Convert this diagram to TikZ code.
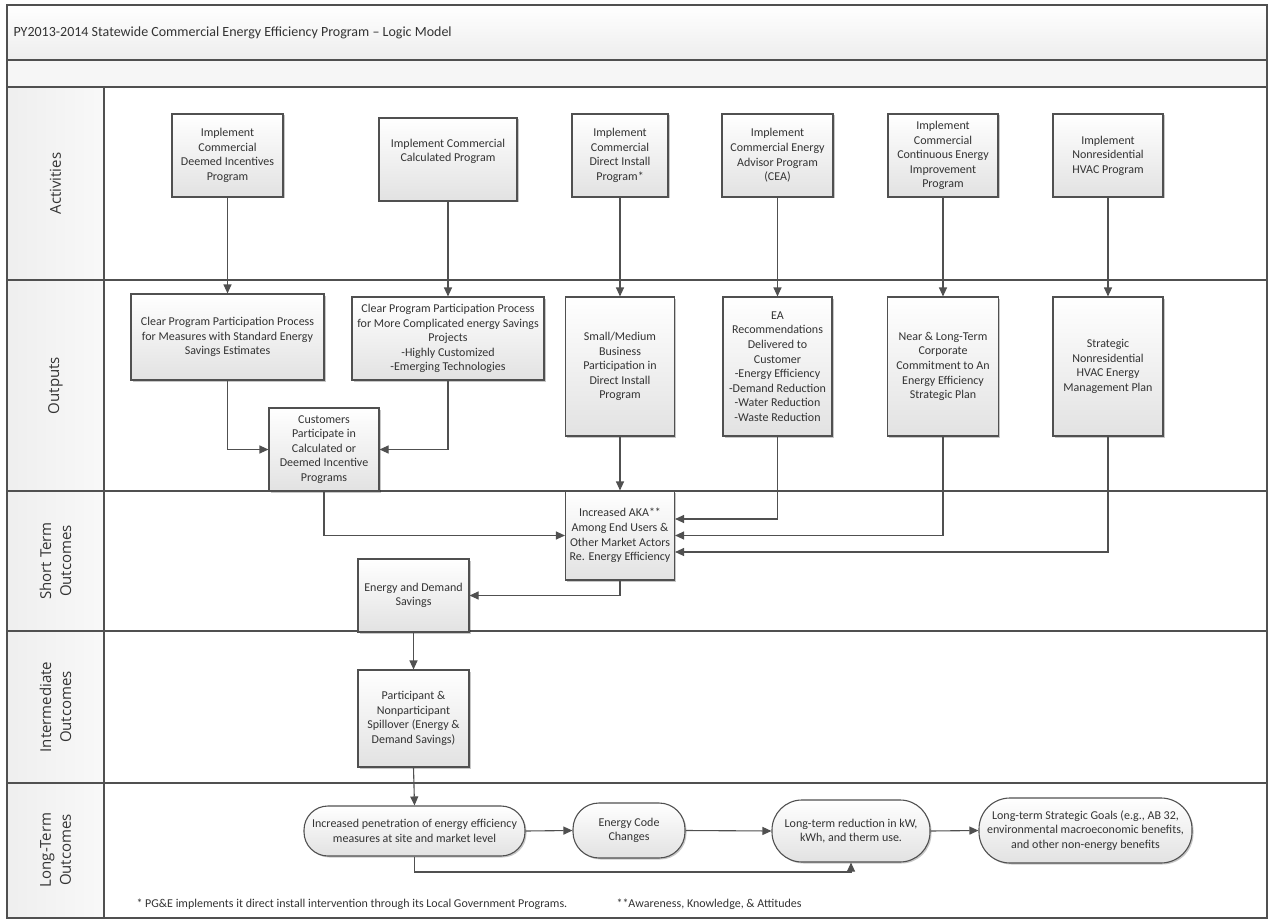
\documentclass[tikz,border=0pt]{standalone}
\usepackage{fontspec}
\setmainfont{Carlito}
\newfontfamily\lanefont{Open Sans}
\usetikzlibrary{arrows.meta,shadows,calc}

\definecolor{linec}{HTML}{505050}
\definecolor{txt}{HTML}{333333}
\definecolor{boxbot}{HTML}{E2E2E2}
\newcommand\bxfont{\fontsize{12}{14.6}\selectfont}

\begin{document}
\begin{tikzpicture}[x=1pt,y=-1pt,
  frame/.style={draw=linec,line width=1.3pt},
  box/.style={draw=linec,line width=1.1pt,top color=white,bottom color=boxbot,
    drop shadow={shadow xshift=1.5pt,shadow yshift=-1.5pt,fill=black,opacity=0.22},
    align=center,font=\bxfont,text=txt,inner sep=0pt},
  pill/.style={box,rounded corners=#1},
  boxtext/.style={align=center,font=\bxfont,text=txt,inner sep=0pt},
  lane/.style={rotate=90,align=center,text=txt,
    font=\lanefont\fontsize{15}{20}\selectfont},
  note/.style={anchor=west,text=txt,font=\fontsize{12}{14}\selectfont},
  arr/.style={draw=linec,line width=1.1pt,-{Triangle[length=9pt,width=8pt]}}]
\useasboundingbox (0,0) rectangle (1269,920);

% title bands and lane-label column
\path[top color=white,bottom color=gray!14] (7,5) rectangle (1267,60);
\path[fill=gray!7] (7,60) rectangle (1267,87);
\path[left color=gray!13,right color=gray!5] (7,87) rectangle (104,918);
\draw[frame] (7,5) rectangle (1267,918);
\foreach \yy in {60,87,280,491,631,783} \draw[frame] (7,\yy) -- (1267,\yy);
\draw[frame] (104,87) -- (104,918);

\node[anchor=west,text=txt,font=\fontsize{14}{17}\selectfont] (title) at (10,33)
  {PY2013-2014 Statewide Commercial Energy Efficiency Program – Logic Model};

% swimlane labels
\node[lane] (laneA) at (55.5,183.5) {Activities};
\node[lane] (laneO) at (55.5,385.5) {Outputs};
\node[lane] (laneS) at (55.5,561) {Short Term\\Outcomes};
\node[lane] (laneI) at (55.5,707) {Intermediate\\Outcomes};
\node[lane] (laneL) at (55.5,850) {Long-Term\\Outcomes};

% activities
\node[box,minimum width=111pt,minimum height=83pt] (A1) at (227.5,155.5)
  {Implement\\Commercial\\Deemed Incentives\\Program};
\node[box,minimum width=138pt,minimum height=83pt] (A2) at (448,159.5) {};
\node[boxtext] (A2t) at (448,151.5) {Implement Commercial\\Calculated Program};
\node[box,minimum width=96pt,minimum height=83pt] (A3) at (620,155.5)
  {Implement\\Commercial\\Direct Install\\Program*};
\node[box,minimum width=111pt,minimum height=83pt] (A4) at (777.5,155.5)
  {Implement\\Commercial Energy\\Advisor Program\\(CEA)};
\node[box,minimum width=110pt,minimum height=83pt] (A5) at (943,155.5)
  {Implement\\Commercial\\Continuous Energy\\Improvement\\Program};
\node[box,minimum width=110pt,minimum height=83pt] (A6) at (1108,155.5)
  {Implement\\Nonresidential\\HVAC Program};

% outputs
\node[box,minimum width=193pt,minimum height=86pt] (O1) at (227.5,337)
  {Clear Program Participation Process\\for Measures with Standard Energy\\Savings Estimates};
\node[box,minimum width=192pt,minimum height=83pt] (O2) at (448,338.5)
  {Clear Program Participation Process\\for More Complicated energy Savings\\Projects\\-Highly Customized\\-Emerging Technologies};
\node[box,minimum width=109pt,minimum height=139pt] (O3) at (620,366.5)
  {Small/Medium\\Business\\Participation in\\Direct Install\\Program};
\node[box,minimum width=109pt,minimum height=139pt] (O4) at (777.5,366.5)
  {EA\\Recommendations\\Delivered to\\Customer\\-Energy Efficiency\\-Demand Reduction\\-Water Reduction\\-Waste Reduction};
\node[box,minimum width=111pt,minimum height=139pt] (O5) at (943,366.5)
  {Near \& Long-Term\\Corporate\\Commitment to An\\Energy Efficiency\\Strategic Plan};
\node[box,minimum width=110pt,minimum height=139pt] (O6) at (1108,366.5)
  {Strategic\\Nonresidential\\HVAC Energy\\Management Plan};
\node[box,minimum width=110pt,minimum height=83pt] (C) at (324,449.5)
  {Customers\\Participate in\\Calculated or\\Deemed Incentive\\Programs};

% short-term and intermediate outcomes
\node[box,minimum width=109pt,minimum height=89pt] (K) at (620,535.5)
  {Increased AKA**\\Among End Users \&\\Other Market Actors\\Re. Energy Efficiency};
\node[box,minimum width=111pt,minimum height=73pt] (E) at (413.5,595.5)
  {Energy and Demand\\Savings};
\node[box,minimum width=111pt,minimum height=97pt] (P) at (413.5,718.5)
  {Participant \&\\Nonparticipant\\Spillover (Energy \&\\Demand Savings)};

% long-term outcomes
\node[pill=24pt,minimum width=221pt,minimum height=50pt] (L1) at (414.5,831)
  {Increased penetration of energy efficiency\\measures at site and market level};
\node[pill=26pt,minimum width=112pt,minimum height=55pt] (L2) at (629,830.5)
  {Energy Code\\Changes};
\node[pill=30pt,minimum width=158pt,minimum height=62pt] (L3) at (851,831)
  {Long-term reduction in kW,\\kWh, and therm use.};
\node[pill=31pt,minimum width=213pt,minimum height=65pt] (L4) at (1085.5,830.5)
  {Long-term Strategic Goals (e.g., AB 32,\\environmental macroeconomic benefits,\\and other non-energy benefits};

% footnotes
\node[note] (n1) at (133,904)
  {* PG\&E implements it direct install intervention through its Local Government Programs.};
\node[note] (n2) at (613,904) {**Awareness, Knowledge, \& Attitudes};

% connectors
\draw[arr] (A1.south) -- (O1.north);
\draw[arr] (A2.south) -- (O2.north);
\draw[arr] (A3.south) -- (O3.north);
\draw[arr] (A4.south) -- (O4.north);
\draw[arr] (A5.south) -- (O5.north);
\draw[arr] (A6.south) -- (O6.north);
\draw[arr] (O1.south) |- (C.west);
\draw[arr] (O2.south) |- (C.east);
\draw[arr] (C.south) |- (K.west);
\draw[arr] (O3.south) -- (K.north);
\draw[arr] (O4.south) |- ([yshift=16.5pt]K.east);
\draw[arr] (O5.south) |- (K.east);
\draw[arr] (O6.south) |- ([yshift=-16.5pt]K.east);
\draw[arr] (K.south) |- (E.east);
\draw[arr] (E.south) -- (P.north);
\draw[arr] (P.south) -- (L1.north);
\draw[arr] (L1.east) -- (L2.west);
\draw[arr] (L2.east) -- (L3.west);
\draw[arr] (L3.east) -- (L4.west);
\coordinate (loop) at (414.5,872);
\draw[arr] (L1.south) -- (loop) -| (L3.south);
\end{tikzpicture}
\end{document}
